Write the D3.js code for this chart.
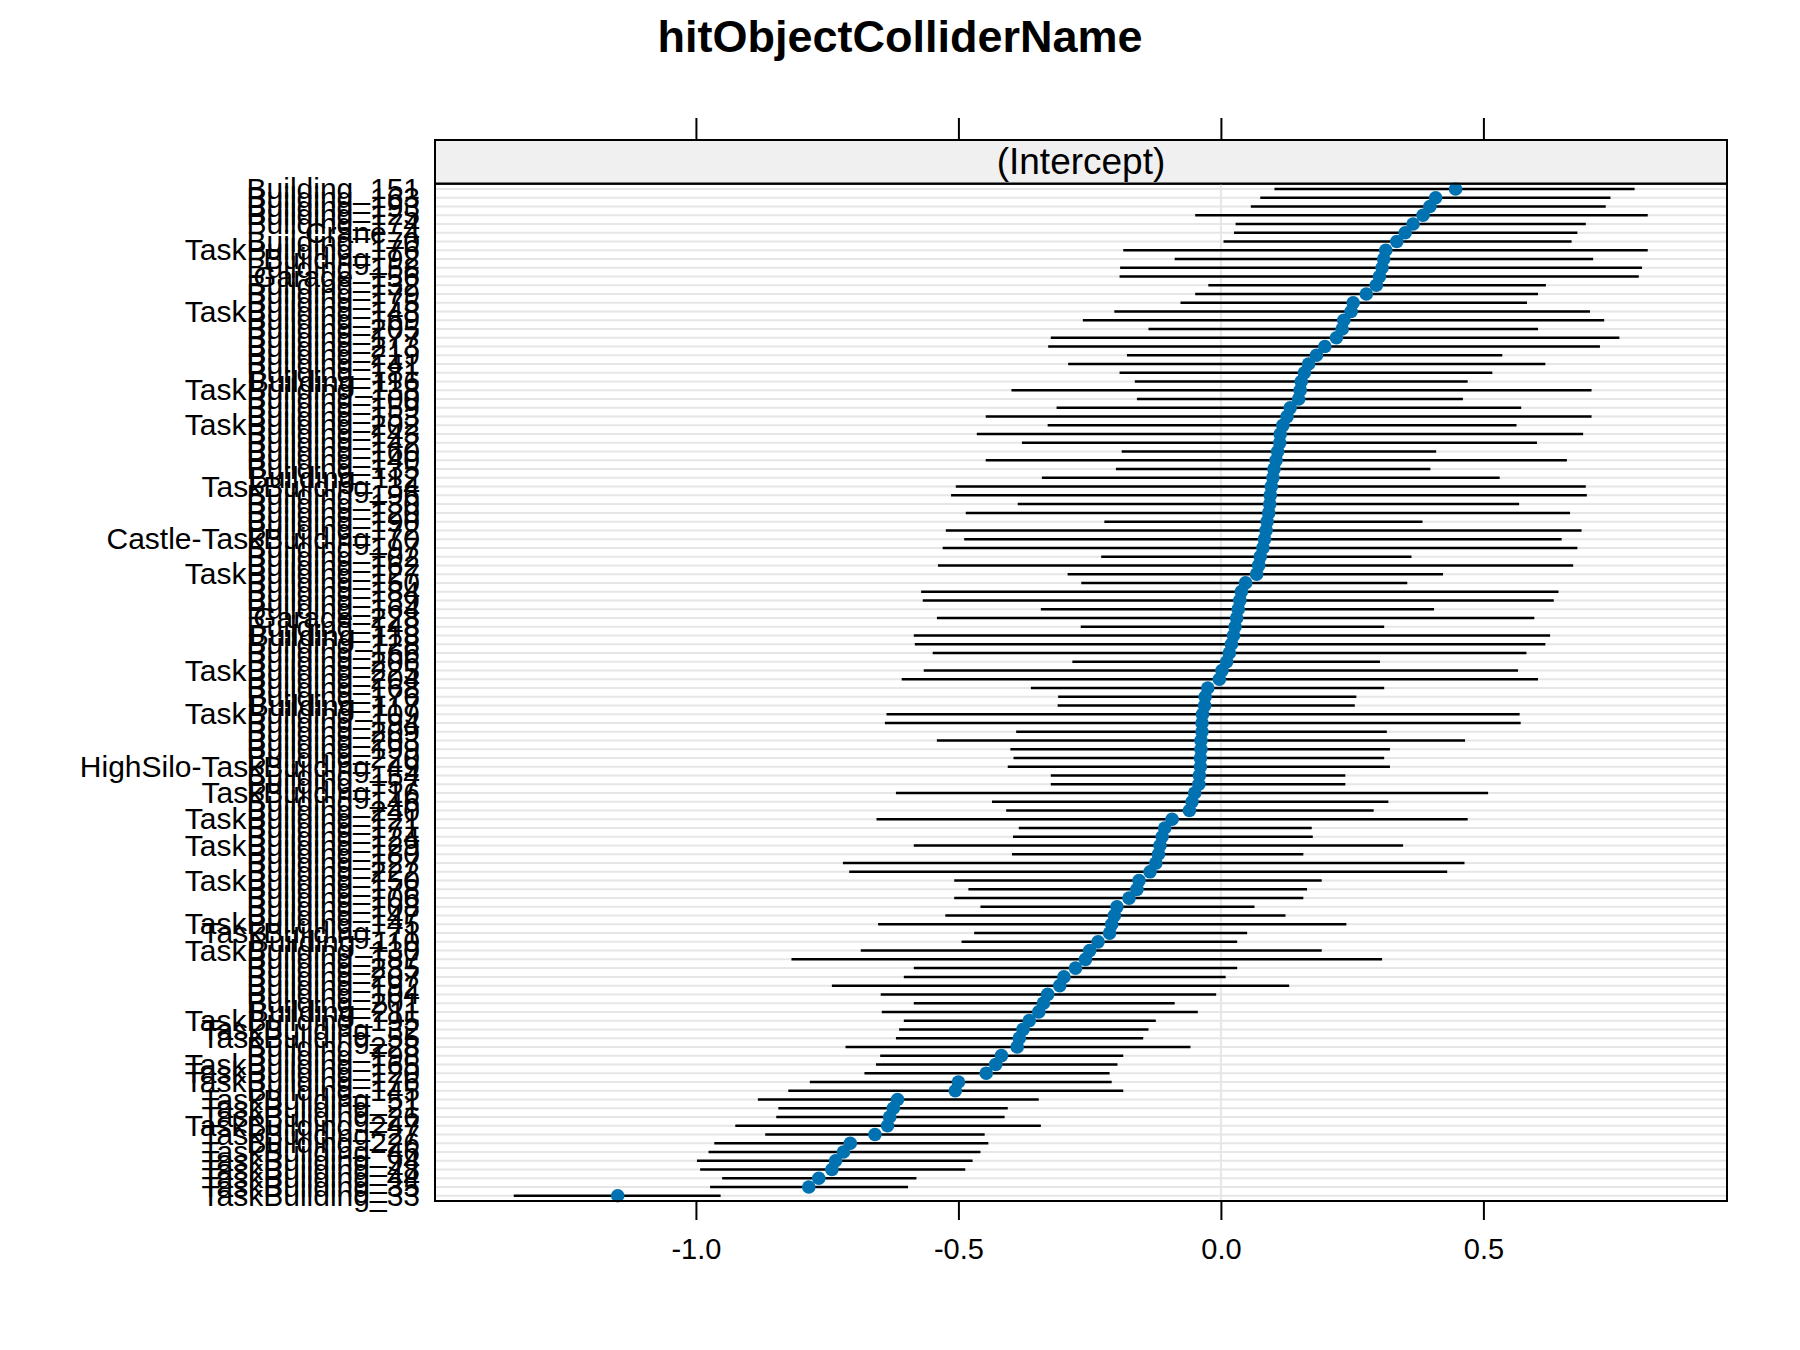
<!DOCTYPE html>
<html>
<head>
<meta charset="utf-8">
<script src="https://cdn.jsdelivr.net/npm/d3@7"></script>
<style>
  html, body { margin: 0; padding: 0; background: #fff; }
  svg { display: block; font-family: "Liberation Sans", Arial, sans-serif; }
</style>
</head>
<body>
<svg id="chart" width="1800" height="1350"></svg>
<script>
// ---------------- DATA ----------------
const chartTitle = "hitObjectColliderName";
const stripLabel = "(Intercept)";

// levels listed top (largest) to bottom (smallest)
const levels = [
  "Building_151","Building_163","Building_193","Building_125","Building_174","Crane_4","Building_170","TaskBuilding_176","Building_92","Building_158",
  "Garage_156","Building_132","Building_179","Building_175","TaskBuilding_148","Building_169","Building_205","Building_177","Building_213","Building_219",
  "Building_141","Building_181","Building_116","TaskBuilding_138","Building_100","Building_159","Building_153","TaskBuilding_202","Building_143",
  "Building_142","Building_160","Building_140","Building_135","Building_112","TaskBuilding_34","Building_196","Building_130","Building_120","Building_190",
  "Building_172","Castle-TaskBuilding_70","Building_197","Building_102","Building_162","TaskBuilding_127","Building_150","Building_184","Building_139","Building_164",
  "Garage_228","Building_148","Building_118","Building_128","Building_166","Building_206","TaskBuilding_225","Building_204","Building_168",
  "Building_176","Building_117","TaskBuilding_109","Building_194","Building_209","Building_203","Building_199","Building_220","HighSilo-TaskBuilding_49","Building_154",
  "Building_157","TaskBuilding_16","Building_146","Building_240","TaskBuilding_121","Building_171","Building_124","TaskBuilding_129","Building_180","Building_127",
  "Building_222","TaskBuilding_150","Building_178","Building_106","Building_108","Building_147","TaskBuilding_145","TaskBuilding_71","Building_110",
  "TaskBuilding_130","Building_187","Building_235","Building_207","Building_192","Building_104","Building_201","Building_211","TaskBuilding_195","TaskBuilding_32",
  "TaskBuilding_55","Building_228","Building_198","TaskBuilding_165","TaskBuilding_120","TaskBuilding_176b","Building_145","TaskBuilding_51","TaskBuilding_21","TaskBuilding_26",
  "TaskBuilding_247","TaskBuilding_27","Building_226","TaskBuilding_46","TaskBuilding_94","TaskBuilding_48","TaskBuilding_44","TaskBuilding_35","TaskBuilding_33"
];

const estimate = [
  0.447,0.409,0.398,0.385,0.366,0.351,0.335,0.314,0.310,0.307,0.302,0.296,0.277,0.252,0.248,0.234,0.231,0.220,0.198,0.182,0.167,0.159,0.153,0.151,0.148,0.132,0.126,0.118,0.113,
  0.112,0.108,0.105,0.101,0.099,0.096,0.094,0.093,0.091,0.088,0.086,0.083,0.080,0.075,0.072,0.068,0.047,0.039,0.036,0.033,0.030,0.027,0.024,0.020,0.016,0.011,0.002,-0.003,-0.025,
  -0.030,-0.031,-0.035,-0.036,-0.036,-0.038,-0.038,-0.039,-0.039,-0.041,-0.042,-0.050,-0.055,-0.060,-0.093,-0.107,-0.112,-0.116,-0.119,-0.124,-0.135,-0.156,-0.160,-0.175,-0.198,-0.203,-0.208,-0.212,-0.234,
  -0.250,-0.258,-0.277,-0.299,-0.307,-0.330,-0.338,-0.347,-0.365,-0.377,-0.384,-0.388,-0.418,-0.429,-0.447,-0.500,-0.506,-0.616,-0.624,-0.631,-0.635,-0.659,-0.706,-0.719,-0.734,-0.741,-0.766,-0.785,-1.149
];

const lower = [
  0.102,0.075,0.057,-0.049,0.028,0.025,0.005,-0.186,-0.088,-0.192,-0.193,-0.024,-0.049,-0.077,-0.203,-0.263,-0.138,-0.324,-0.329,-0.179,-0.291,-0.193,-0.164,-0.399,-0.160,-0.313,-0.448,-0.330,-0.465,
  -0.379,-0.189,-0.448,-0.200,-0.341,-0.505,-0.514,-0.387,-0.486,-0.222,-0.524,-0.489,-0.530,-0.228,-0.539,-0.292,-0.266,-0.571,-0.568,-0.343,-0.541,-0.267,-0.585,-0.583,-0.549,-0.283,-0.566,-0.608,-0.362,
  -0.310,-0.311,-0.637,-0.640,-0.390,-0.541,-0.401,-0.395,-0.406,-0.324,-0.324,-0.619,-0.436,-0.409,-0.656,-0.385,-0.396,-0.585,-0.398,-0.720,-0.708,-0.508,-0.481,-0.508,-0.458,-0.525,-0.653,-0.470,-0.494,
  -0.686,-0.818,-0.585,-0.604,-0.741,-0.648,-0.585,-0.646,-0.604,-0.613,-0.619,-0.715,-0.649,-0.657,-0.679,-0.783,-0.824,-0.882,-0.843,-0.847,-0.925,-0.868,-0.965,-0.976,-0.998,-0.992,-0.950,-0.973,-1.347
];

const upper = [
  0.788,0.742,0.733,0.813,0.695,0.679,0.668,0.813,0.709,0.802,0.796,0.619,0.604,0.583,0.703,0.730,0.604,0.759,0.722,0.536,0.618,0.517,0.470,0.706,0.461,0.572,0.706,0.563,0.690,
  0.602,0.410,0.659,0.399,0.531,0.695,0.697,0.568,0.665,0.384,0.687,0.649,0.679,0.363,0.671,0.423,0.355,0.643,0.634,0.406,0.597,0.311,0.627,0.618,0.582,0.303,0.566,0.604,0.311,
  0.258,0.255,0.569,0.571,0.316,0.465,0.322,0.311,0.322,0.237,0.237,0.509,0.319,0.291,0.470,0.173,0.175,0.347,0.157,0.464,0.431,0.192,0.164,0.157,0.064,0.123,0.239,0.050,0.031,
  0.192,0.307,0.031,0.009,0.130,-0.009,-0.088,-0.044,-0.124,-0.138,-0.148,-0.058,-0.186,-0.197,-0.212,-0.208,-0.186,-0.347,-0.406,-0.412,-0.343,-0.450,-0.443,-0.458,-0.473,-0.487,-0.580,-0.596,-0.953
];

const tickValues = [-1.0, -0.5, 0.0, 0.5];
const tickLabels = ["-1.0", "-0.5", "0.0", "0.5"];

// display names (one level had a suffix only to keep keys unique)
const displayName = d => d.replace(/b$/, "");

// ---------------- LAYOUT ----------------
const panel = { left: 435, right: 1727, top: 183.7, bottom: 1201 };
const stripTop = 140;

const svg = d3.select("#chart");

const x = d3.scaleLinear().domain([-1.497, 0.964]).range([panel.left, panel.right]);
const y = d3.scalePoint().domain(levels).range([panel.top, panel.bottom]).padding(0.6);

const rows = levels.map((name, i) => ({ name, est: estimate[i], lo: lower[i], hi: upper[i] }));

// title
svg.append("text")
  .attr("x", 900).attr("y", 52)
  .attr("text-anchor", "middle")
  .attr("font-size", 45).attr("font-weight", "bold")
  .text(chartTitle);

// strip
svg.append("rect")
  .attr("x", panel.left).attr("y", stripTop)
  .attr("width", panel.right - panel.left).attr("height", panel.top - stripTop)
  .attr("fill", "#f0f0f0").attr("stroke", "#000").attr("stroke-width", 2);
svg.append("text")
  .attr("x", (panel.left + panel.right) / 2).attr("y", 174)
  .attr("text-anchor", "middle").attr("font-size", 37)
  .text(stripLabel);

// top axis (ticks only)
const topAxis = svg.append("g")
  .attr("transform", `translate(0,${stripTop})`)
  .call(d3.axisTop(x).tickValues(tickValues).tickSize(22).tickFormat(() => ""));
topAxis.select(".domain").remove();
topAxis.selectAll("line").attr("stroke", "#000").attr("stroke-width", 2);

// panel grid lines
const g = svg.append("g");
g.selectAll("line.hgrid").data(rows).join("line")
  .attr("class", "hgrid")
  .attr("x1", panel.left).attr("x2", panel.right)
  .attr("y1", d => y(d.name)).attr("y2", d => y(d.name))
  .attr("stroke", "#e6e6e6").attr("stroke-width", 2);

g.append("line")
  .attr("x1", x(0)).attr("x2", x(0))
  .attr("y1", panel.top).attr("y2", panel.bottom)
  .attr("stroke", "#e6e6e6").attr("stroke-width", 2);

// error bars
g.selectAll("line.err").data(rows).join("line")
  .attr("class", "err")
  .attr("x1", d => x(d.lo)).attr("x2", d => x(d.hi))
  .attr("y1", d => y(d.name)).attr("y2", d => y(d.name))
  .attr("stroke", "#000").attr("stroke-width", 2.5);

// points
g.selectAll("circle.pt").data(rows).join("circle")
  .attr("class", "pt")
  .attr("cx", d => x(d.est)).attr("cy", d => y(d.name))
  .attr("r", 6.8).attr("fill", "#0072b2");

// panel border
svg.append("rect")
  .attr("x", panel.left).attr("y", panel.top)
  .attr("width", panel.right - panel.left).attr("height", panel.bottom - panel.top)
  .attr("fill", "none").attr("stroke", "#000").attr("stroke-width", 2);

// bottom axis
const botAxis = svg.append("g")
  .attr("transform", `translate(0,${panel.bottom})`)
  .call(d3.axisBottom(x).tickValues(tickValues).tickSize(19).tickPadding(18)
        .tickFormat((d, i) => tickLabels[i]));
botAxis.select(".domain").remove();
botAxis.selectAll("line").attr("stroke", "#000").attr("stroke-width", 2);
botAxis.selectAll("text")
  .attr("font-size", 29).attr("fill", "#000")
  .attr("font-family", "'Liberation Sans', Arial, sans-serif");

// left axis (category labels)
const leftAxis = svg.append("g")
  .attr("transform", `translate(${panel.left},0)`)
  .call(d3.axisLeft(y).tickSize(0).tickPadding(15).tickFormat(displayName));
leftAxis.select(".domain").remove();
leftAxis.selectAll("text")
  .attr("font-size", 30).attr("fill", "#000")
  .attr("font-family", "'Liberation Sans', Arial, sans-serif");
</script>
</body>
</html>
